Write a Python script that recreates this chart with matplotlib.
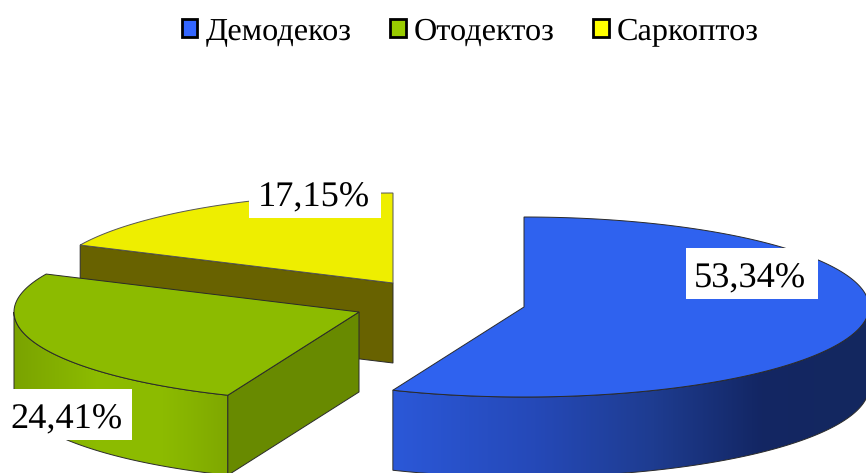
# %%
import numpy as np
import matplotlib
matplotlib.use('Agg')
import matplotlib.pyplot as plt
from matplotlib.colors import LinearSegmentedColormap
from matplotlib.patches import Patch, Polygon, Rectangle

# %%
names = ['Демодекоз', 'Отодектоз', 'Саркоптоз']
values = [53.34, 24.41, 17.15]
value_labels = ['53,34%', '24,41%', '17,15%']
legend_colors = ['#3366ff', '#99cc00', '#ffff00']
top_colors = ['#2f62ef', '#8cbb00', '#eeee00']
cut_colors = ['#2a55d0', '#688a00', '#686200']
edge_color = '#2a2a2a'

# exploded slice centres and pie shape, in pixels
centers = [(524, 307), (359, 312), (393, 283)]
rx, ry, depth = 345, 90, 80

plt.rcParams['font.family'] = ['Liberation Serif', 'DejaVu Serif']
plt.rcParams['text.hinting'] = 'none'


def rim(cx, cy, t0, t1, dy=0):
    # clockwise from 12 o'clock, angles in degrees
    t = np.radians(np.linspace(t0, t1, 200))
    return np.column_stack([cx + rx * np.sin(t), cy - ry * np.cos(t) + dy])


def wall(ax, pts, colors, stops, x0, x1, z):
    poly = Polygon(pts, closed=True, facecolor='none', edgecolor=edge_color,
                   linewidth=0.7, zorder=z + 0.1)
    ax.add_patch(poly)
    cmap = LinearSegmentedColormap.from_list('w', list(zip(stops, colors)))
    im = ax.imshow(np.linspace(0, 1, 256).reshape(1, -1), cmap=cmap, aspect='auto',
                   extent=(x0, x1, 473, 0), zorder=z)
    im.set_clip_path(Polygon(pts, closed=True, transform=ax.transData))


# %%
fig = plt.figure(figsize=(8.66, 4.73), dpi=100)
ax = fig.add_axes([0, 0, 1, 1])

angles = np.array(values) / sum(values) * 360
starts = np.concatenate([[0], np.cumsum(angles)[:-1]])
ends = np.cumsum(angles)

# yellow slice: cut face towards the viewer, then top
i = 2
cx, cy = centers[i]
left = rim(cx, cy, starts[i], starts[i])[0]
ax.add_patch(Polygon([(cx, cy), left, left + [0, depth], (cx, cy + depth)], closed=True,
                     facecolor=cut_colors[i], edgecolor=edge_color, linewidth=0.7, zorder=1))
ax.add_patch(Polygon(np.vstack([[(cx, cy)], rim(cx, cy, starts[i], ends[i])]), closed=True,
                     facecolor=top_colors[i], edgecolor='#555555', linewidth=0.7, zorder=2))

# green slice
i = 1
cx, cy = centers[i]
outer = rim(cx, cy, starts[i], 270)
corner = outer[0]
wall(ax, np.vstack([outer, outer[::-1] + [0, depth]]),
     ['#7aa300', '#8dbc00', '#8cbb00', '#7fa800'], [0, 0.4, 0.7, 1],
     cx - rx, corner[0], 3)
ax.add_patch(Polygon([(cx, cy), corner, corner + [0, depth], (cx, cy + depth)], closed=True,
                     facecolor=cut_colors[i], edgecolor=edge_color, linewidth=0.7, zorder=4))
ax.add_patch(Polygon(np.vstack([[(cx, cy)], rim(cx, cy, starts[i], ends[i])]), closed=True,
                     facecolor=top_colors[i], edgecolor=edge_color, linewidth=0.7, zorder=5))

# blue slice
i = 0
cx, cy = centers[i]
outer = rim(cx, cy, 90, ends[i])
wall(ax, np.vstack([outer, outer[::-1] + [0, depth]]),
     ['#2b58d8', '#2549b8', '#1e3c90', '#132663', '#14285f'], [0, 0.3, 0.55, 0.78, 1],
     outer[-1][0], 866, 6)
ax.add_patch(Polygon(np.vstack([[(cx, cy)], rim(cx, cy, starts[i], ends[i])]), closed=True,
                     facecolor=top_colors[i], edgecolor=edge_color, linewidth=0.7, zorder=7))

# value labels sit on white boxes
boxes = [(686, 248), (0, 389), (249, 167)]
text_pos = [(750, 287), (66, 428), (314, 206)]
for (bx, by), (tx, ty), lab in zip(boxes, text_pos, value_labels):
    ax.add_patch(Rectangle((bx, by), 132, 51, facecolor='white', edgecolor='none', zorder=8))
    ax.text(tx, ty, lab, fontsize=26.2, ha='center', va='baseline', color='black', zorder=9)

handles = [Patch(facecolor=c, edgecolor='black', linewidth=2) for c in legend_colors]
leg = fig.legend(handles, names, loc='center left',
                 bbox_to_anchor=(182 / 866, 1 - 32 / 473),
                 ncols=3, frameon=False, fontsize=23.2, borderpad=0, borderaxespad=0,
                 handlelength=0.48, handleheight=0.5, handletextpad=0.25, columnspacing=1.2)

ax.set_xlim(0, 866)
ax.set_ylim(473, 0)
ax.axis('off')

# %%
fig.savefig('out.png', dpi=100)
